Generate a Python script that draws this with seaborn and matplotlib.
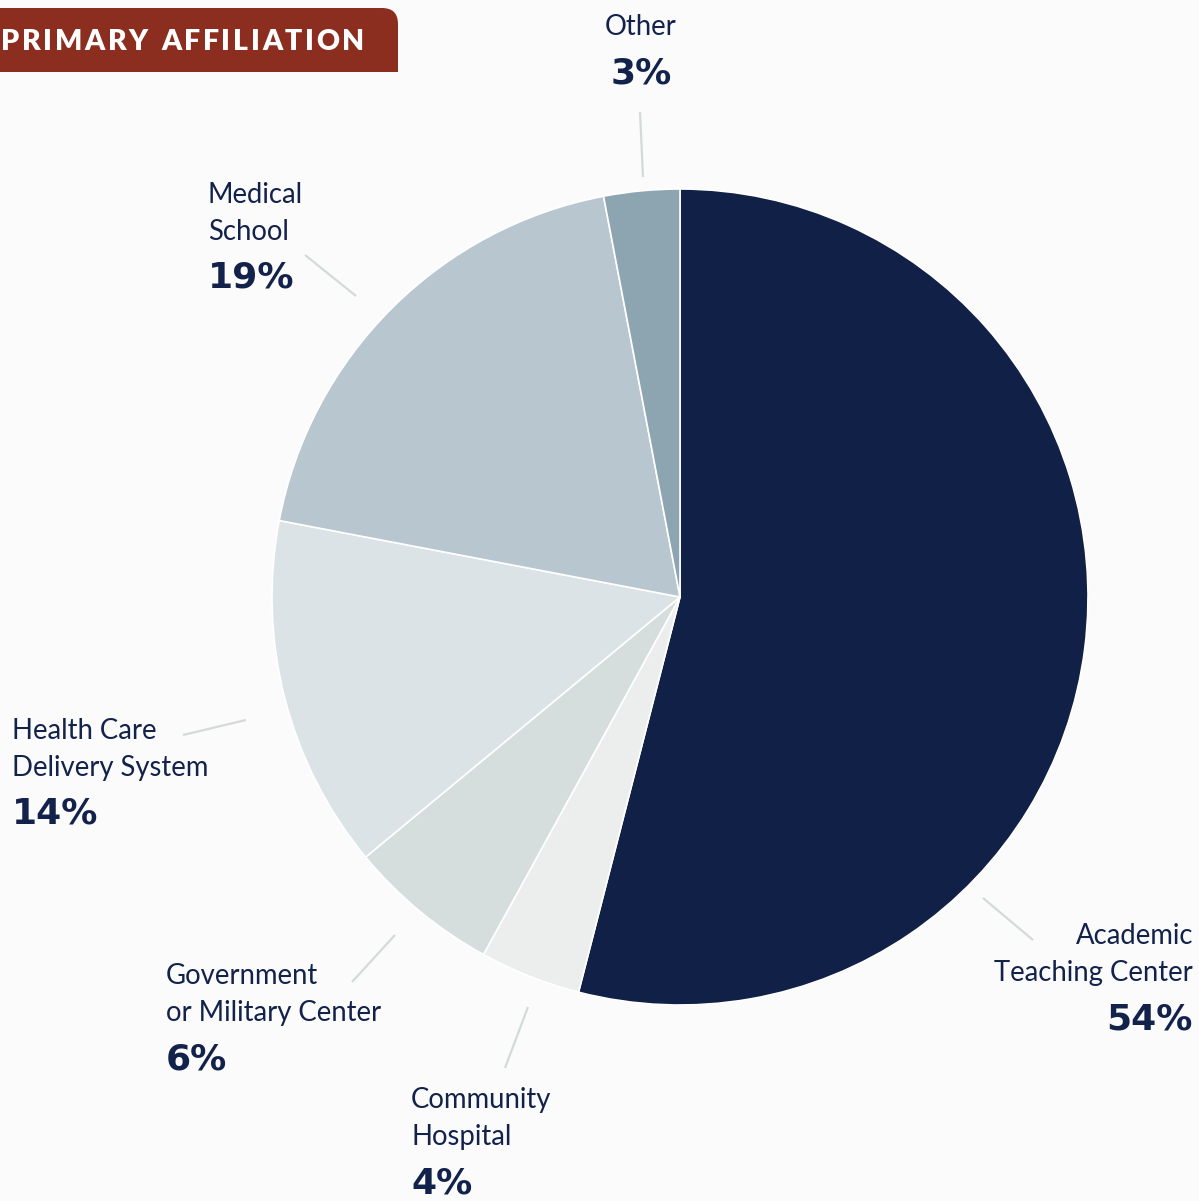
import matplotlib
matplotlib.use("Agg")
import matplotlib.pyplot as plt
import seaborn as sns
from matplotlib.patches import FancyBboxPatch, Rectangle

# data
labels = ["Academic\nTeaching Center", "Community\nHospital", "Government\nor Military Center",
          "Health Care\nDelivery System", "Medical\nSchool", "Other"]
values = [54, 4, 6, 14, 19, 3]
colors = ["#112046", "#eceeed", "#d6dddd", "#dce3e7", "#b8c6cf", "#8da4b1"]

W, H = 1199, 1201
navy = "#13224a"
bg = "#fbfbfb"

sns.set_theme(style="white")
plt.rcParams["font.family"] = ["Lato", "DejaVu Sans"]

fig = plt.figure(figsize=(W / 100, H / 100), dpi=100, facecolor=bg)
ax = fig.add_axes([0, 0, 1, 1])
ax.set_facecolor(bg)

def Y(py):
    return H - py

# pie
ax.pie(values, colors=colors, startangle=90, counterclock=False,
       center=(680, Y(597)), radius=408, frame=True,
       wedgeprops=dict(edgecolor="white", linewidth=1.2))
ax.set_xlim(0, W)
ax.set_ylim(0, H)
ax.set_aspect("equal")
ax.axis("off")

# leader lines (pixel coords)
leaders = [((983, 898), (1033, 940)), ((528, 1007), (505, 1068)), ((395, 935), (352, 982)),
           ((246, 720), (183, 735)), ((356, 296), (305, 255)), ((643, 177), (640, 112))]
for (x0, y0), (x1, y1) in leaders:
    ax.plot([x0, x1], [Y(y0), Y(y1)], color="#d4dada", lw=1.6, solid_capstyle="butt")

# label positions: x, y of first line center, alignment
pos = [(1193, 936, "right"), (411, 1100, "left"), (166, 976, "left"),
       (12, 731, "left"), (208, 195, "left"), (641, 27, "center")]
for lab, v, (x, y, ha) in zip(labels, values, pos):
    lines = lab.split("\n")
    for i, ln in enumerate(lines):
        ax.text(x, Y(y + i * 37), ln, ha=ha, va="center", fontsize=19.8, color=navy)
    yp = y + (len(lines) - 1) * 37 + 46
    ax.text(x, Y(yp), f"{v}%", ha=ha, va="center", fontsize=26,
            fontweight="bold", color=navy, family="DejaVu Sans")

# title banner
ax.add_patch(FancyBboxPatch((-40, Y(72)), 438, 64, boxstyle="round,pad=0,rounding_size=16",
                            fc="#8b2d1f", ec="none", zorder=5))
ax.add_patch(Rectangle((-40, Y(72)), 438, 20, fc="#8b2d1f", ec="none", zorder=5))

# spaced title letters
fig.canvas.draw()
r = fig.canvas.get_renderer()
title = "PRIMARY AFFILIATION"
x = 1
spacing = 2.6
for ch in title:
    t = ax.text(x, Y(42), ch, ha="left", va="center", fontsize=20.5, fontweight="heavy",
                color="white", zorder=6)
    if ch == " ":
        w = 8
    else:
        bb = t.get_window_extent(renderer=r)
        w = bb.width
    x += w + spacing

fig.savefig("out.png", dpi=100, facecolor=bg)
